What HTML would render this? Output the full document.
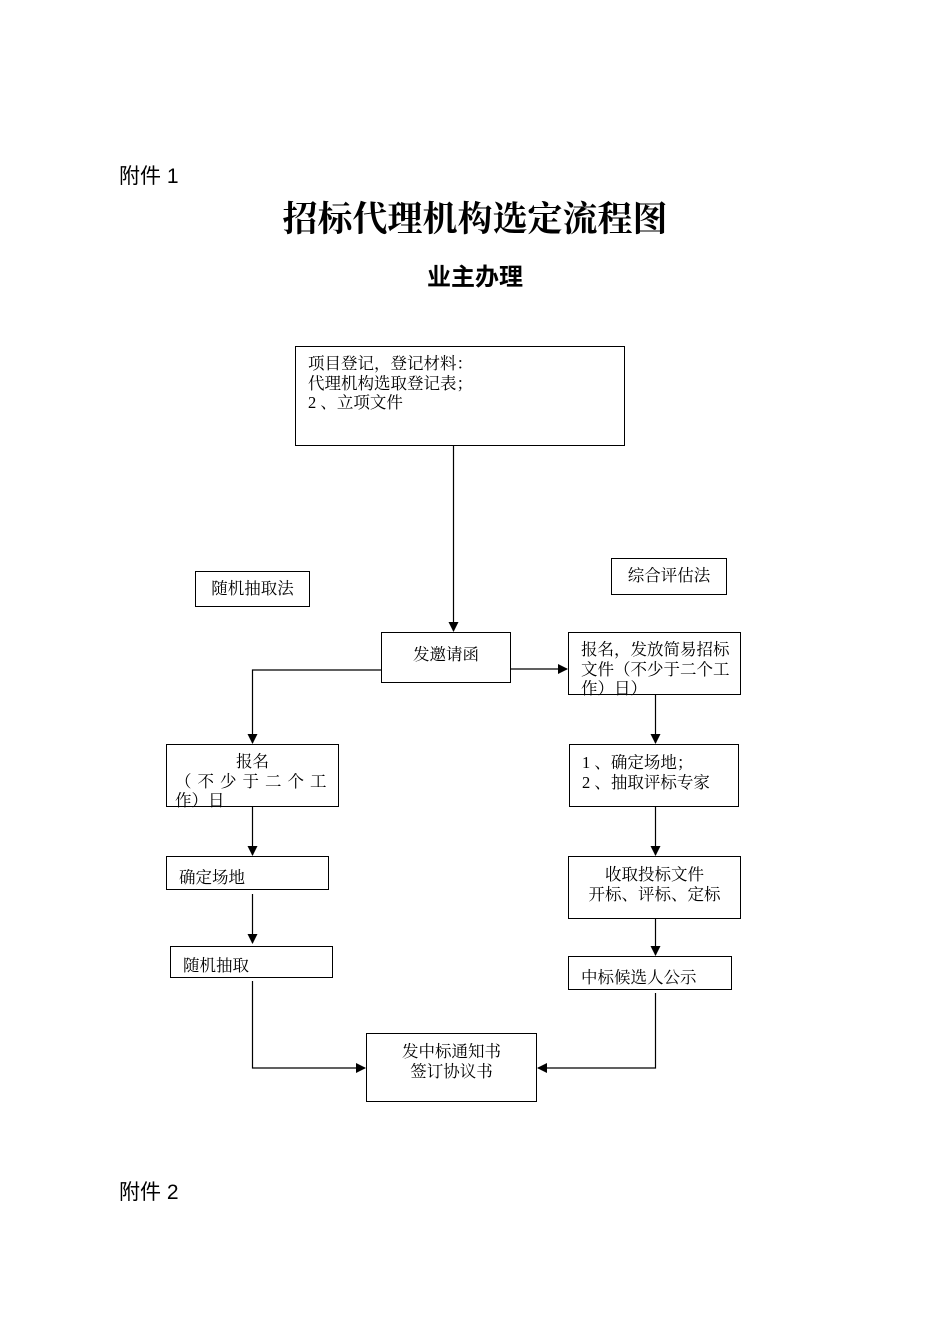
<!DOCTYPE html>
<html><head><meta charset="utf-8">
<style>
html,body{margin:0;padding:0;background:#fff;}
body{width:950px;height:1344px;position:relative;overflow:hidden;}
.s{font-family:"Liberation Sans","Noto Sans CJK SC",sans-serif;}
.r{font-family:"Liberation Serif","Noto Serif CJK SC",serif;}
.t{position:absolute;white-space:nowrap;color:#000;}
.b{position:absolute;border:1px solid #000;box-sizing:border-box;font-family:"Liberation Serif","Noto Serif CJK SC",serif;font-size:16.5px;line-height:19.5px;color:#000;white-space:nowrap;}
svg{position:absolute;left:0;top:0;}
</style></head><body>
<div class="t s" style="left:119px;top:160px;font-size:21px;">附件 1</div>
<div class="t r" style="left:0;width:950px;text-align:center;top:198px;font-size:35px;font-weight:bold;line-height:44px;">招标代理机构选定流程图</div>
<div class="t s" style="left:0;width:950px;text-align:center;top:257px;font-size:24px;font-weight:bold;">业主办理</div>
<div class="t s" style="left:119px;top:1176px;font-size:21px;">附件 2</div>

<div class="b" style="left:295px;top:346px;width:330px;height:100px;padding:7px 0 0 12px;">项目登记，登记材料：<br>代理机构选取登记表；<br>2 、立项文件</div>
<div class="b" style="left:195px;top:571px;width:115px;height:36px;text-align:center;line-height:33px;">随机抽取法</div>
<div class="b" style="left:611px;top:558px;width:116px;height:37px;text-align:center;line-height:33px;">综合评估法</div>
<div class="b" style="left:381px;top:632px;width:130px;height:51px;text-align:center;padding-top:12px;">发邀请函</div>
<div class="b" style="left:568px;top:632px;width:173px;height:63px;padding:7px 0 0 12px;">报名，发放简易招标<br>文件（不少于二个工<br>作）日）</div>
<div class="b" style="left:166px;top:744px;width:173px;height:63px;padding:7px 0 0 8px;"><div style="text-align:center;padding-right:8px;">报名</div><div style="letter-spacing:6px;">（不少于二个工</div><div>作）日</div></div>
<div class="b" style="left:569px;top:744px;width:170px;height:63px;padding:8px 0 0 12px;">1 、确定场地；<br>2 、抽取评标专家</div>
<div class="b" style="left:166px;top:856px;width:163px;height:34px;padding:11px 0 0 12px;">确定场地</div>
<div class="b" style="left:568px;top:856px;width:173px;height:63px;text-align:center;padding-top:8px;">收取投标文件<br>开标、评标、定标</div>
<div class="b" style="left:170px;top:946px;width:163px;height:32px;padding:9px 0 0 12px;">随机抽取</div>
<div class="b" style="left:568px;top:956px;width:164px;height:34px;padding:11px 0 0 12px;">中标候选人公示</div>
<div class="b" style="left:366px;top:1033px;width:171px;height:69px;text-align:center;padding-top:8px;">发中标通知书<br>签订协议书</div>

<svg width="950" height="1344" viewBox="0 0 950 1344">
<defs><marker id="a" markerWidth="10" markerHeight="10" refX="9" refY="5" orient="auto" markerUnits="userSpaceOnUse"><path d="M0,0 L10,5 L0,10 z" fill="#000"/></marker></defs>
<g stroke="#000" stroke-width="1.2" fill="none">
<line x1="453.5" y1="446" x2="453.5" y2="631" marker-end="url(#a)"/>
<polyline points="381,670 252.5,670 252.5,743" marker-end="url(#a)"/>
<line x1="511" y1="669" x2="567" y2="669" marker-end="url(#a)"/>
<line x1="655.5" y1="695" x2="655.5" y2="743" marker-end="url(#a)"/>
<line x1="655.5" y1="807" x2="655.5" y2="855" marker-end="url(#a)"/>
<line x1="655.5" y1="919" x2="655.5" y2="955" marker-end="url(#a)"/>
<line x1="252.5" y1="807" x2="252.5" y2="855" marker-end="url(#a)"/>
<line x1="252.5" y1="894" x2="252.5" y2="943" marker-end="url(#a)"/>
<polyline points="252.5,981 252.5,1068 365,1068" marker-end="url(#a)"/>
<polyline points="655.5,993 655.5,1068 538,1068" marker-end="url(#a)"/>
</g>
</svg>
</body></html>
